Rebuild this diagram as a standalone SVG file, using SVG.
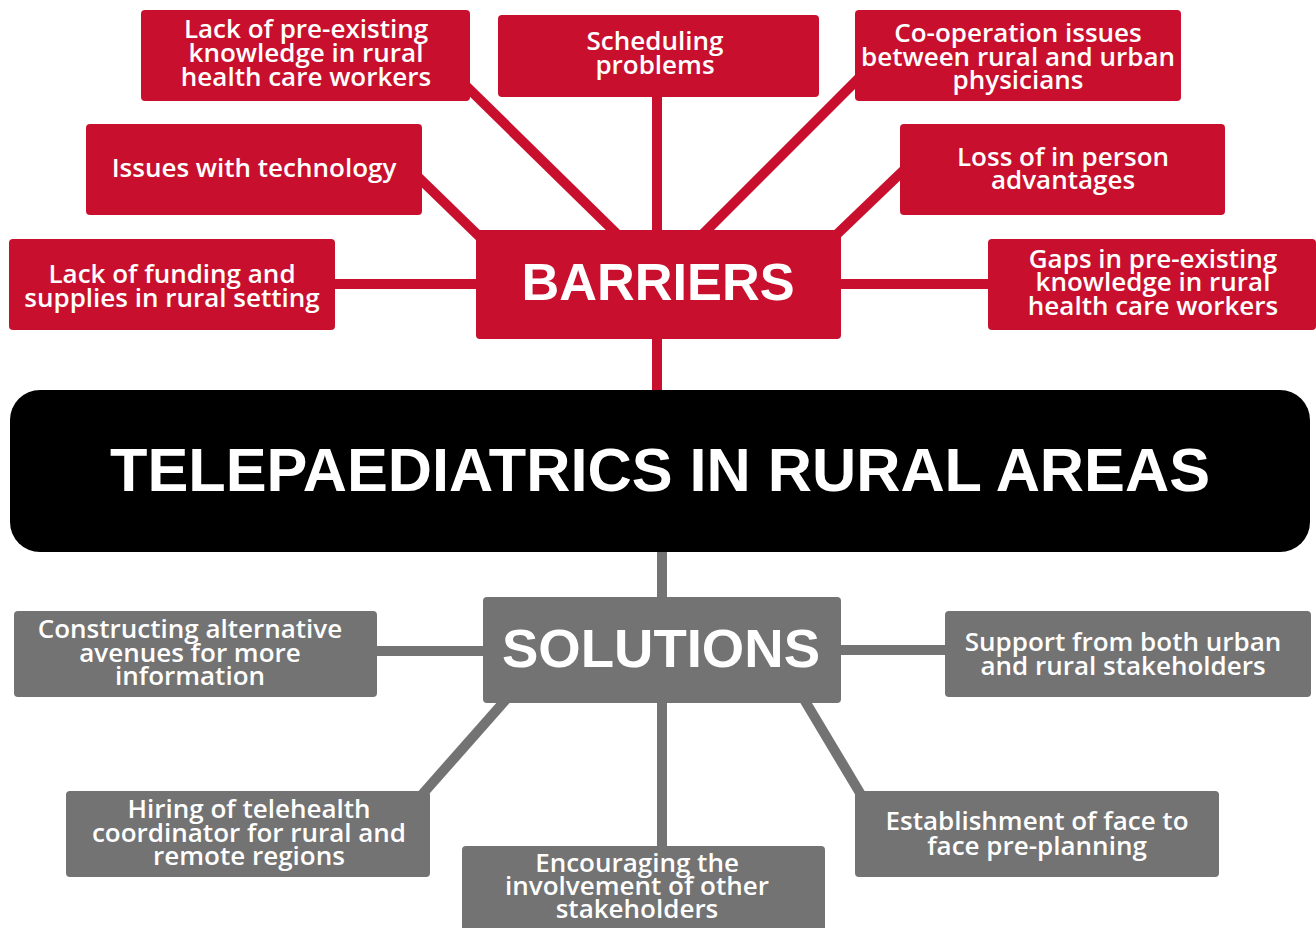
<svg xmlns="http://www.w3.org/2000/svg" width="1316" height="928" viewBox="0 0 1316 928">
<style>
.bg{fill:#ffffff}
.red{fill:#C8102E}
.gray{fill:#737373}
.rl{stroke:#C8102E;stroke-width:10;fill:none}
.gl{stroke:#737373;stroke-width:10;fill:none}
.t{font-family:"Open Sans","Liberation Sans",sans-serif;font-weight:600;font-size:26px;fill:#ffffff;text-anchor:middle}
.hub{font-family:"Liberation Sans","Open Sans",sans-serif;font-weight:700;fill:#ffffff;text-anchor:middle}
</style>
<rect class="bg" x="0" y="0" width="1316" height="928"/>
<g id="connectors">
<line class="rl" x1="463" y1="83" x2="620" y2="237"/>
<line class="rl" x1="415" y1="174" x2="485" y2="242"/>
<line class="rl" x1="657" y1="90" x2="657" y2="240"/>
<line class="rl" x1="862" y1="75" x2="700" y2="237"/>
<line class="rl" x1="906" y1="168" x2="832" y2="239"/>
<line class="rl" x1="330" y1="284" x2="485" y2="284"/>
<line class="rl" x1="830" y1="284" x2="995" y2="284"/>
<line class="rl" x1="657" y1="330" x2="657" y2="400"/>
<line class="gl" x1="662" y1="540" x2="662" y2="605"/>
<line class="gl" x1="370" y1="651" x2="490" y2="651"/>
<line class="gl" x1="835" y1="650" x2="952" y2="650"/>
<line class="gl" x1="419" y1="798" x2="510" y2="695"/>
<line class="gl" x1="662" y1="695" x2="662" y2="855"/>
<line class="gl" x1="802" y1="696" x2="863" y2="798"/>
</g>
<g id="barrier-lack-knowledge">
<rect class="red" x="141" y="10" width="329" height="91" rx="4"/>
<text class="t" x="306" y="38">Lack of pre-existing</text>
<text class="t" x="306" y="62">knowledge in rural</text>
<text class="t" x="306" y="86">health care workers</text>
</g>
<g id="barrier-scheduling">
<rect class="red" x="498" y="15" width="321" height="82" rx="4"/>
<text class="t" x="655" y="50">Scheduling</text>
<text class="t" x="655" y="74">problems</text>
</g>
<g id="barrier-cooperation">
<rect class="red" x="855" y="10" width="326" height="91" rx="4"/>
<text class="t" x="1018" y="42">Co-operation issues</text>
<text class="t" x="1018" y="66">between rural and urban</text>
<text class="t" x="1018" y="89">physicians</text>
</g>
<g id="barrier-technology">
<rect class="red" x="86" y="124" width="336" height="91" rx="4"/>
<text class="t" x="254" y="177">Issues with technology</text>
</g>
<g id="barrier-in-person">
<rect class="red" x="900" y="124" width="325" height="91" rx="4"/>
<text class="t" x="1063" y="166">Loss of in person</text>
<text class="t" x="1063" y="189">advantages</text>
</g>
<g id="barrier-funding">
<rect class="red" x="9" y="239" width="326" height="91" rx="4"/>
<text class="t" x="172" y="283">Lack of funding and</text>
<text class="t" x="172" y="307">supplies in rural setting</text>
</g>
<g id="barrier-gaps">
<rect class="red" x="988" y="239" width="328" height="91" rx="4"/>
<text class="t" x="1153" y="268">Gaps in pre-existing</text>
<text class="t" x="1153" y="291">knowledge in rural</text>
<text class="t" x="1153" y="315">health care workers</text>
</g>
<g id="barriers">
<rect class="red" x="476" y="230" width="365" height="109" rx="4"/>
<text class="hub" x="658" y="300" font-size="51" textLength="273" lengthAdjust="spacingAndGlyphs">BARRIERS</text>
</g>
<g id="title">
<rect x="10" y="390" width="1300" height="162" rx="30" fill="#000000"/>
<text class="hub" x="660" y="491" font-size="61" textLength="1100" lengthAdjust="spacingAndGlyphs">TELEPAEDIATRICS IN RURAL AREAS</text>
</g>
<g id="solutions">
<rect class="gray" x="483" y="597" width="358" height="106" rx="4"/>
<text class="hub" x="661" y="667" font-size="54" textLength="318" lengthAdjust="spacingAndGlyphs">SOLUTIONS</text>
</g>
<g id="solution-constructing">
<rect class="gray" x="14" y="611" width="363" height="86" rx="4"/>
<text class="t" x="190" y="638">Constructing alternative</text>
<text class="t" x="190" y="662">avenues for more</text>
<text class="t" x="190" y="685">information</text>
</g>
<g id="solution-support">
<rect class="gray" x="945" y="611" width="366" height="86" rx="4"/>
<text class="t" x="1123" y="651">Support from both urban</text>
<text class="t" x="1123" y="675">and rural stakeholders</text>
</g>
<g id="solution-hiring">
<rect class="gray" x="66" y="791" width="364" height="86" rx="4"/>
<text class="t" x="249" y="818">Hiring of telehealth</text>
<text class="t" x="249" y="842">coordinator for rural and</text>
<text class="t" x="249" y="865">remote regions</text>
</g>
<g id="solution-establishment">
<rect class="gray" x="855" y="791" width="364" height="86" rx="4"/>
<text class="t" x="1037" y="830">Establishment of face to</text>
<text class="t" x="1037" y="855">face pre-planning</text>
</g>
<g id="solution-encouraging">
<rect class="gray" x="462" y="846" width="363" height="90" rx="4"/>
<text class="t" x="637" y="872">Encouraging the</text>
<text class="t" x="637" y="895">involvement of other</text>
<text class="t" x="637" y="918">stakeholders</text>
</g>
</svg>
